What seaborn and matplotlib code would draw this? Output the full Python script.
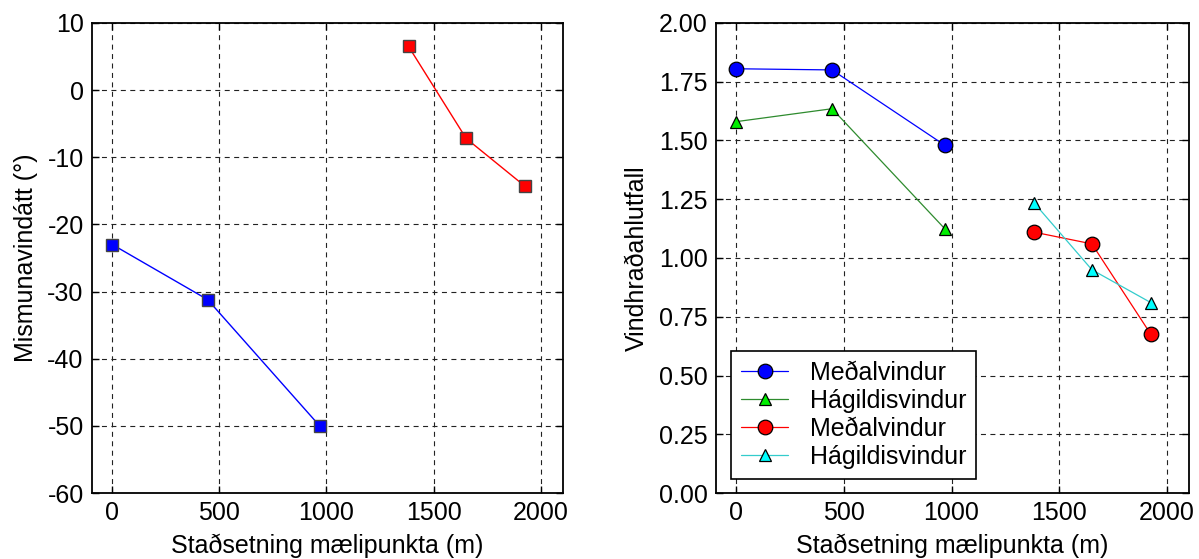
import matplotlib
matplotlib.use("Agg")
import matplotlib.pyplot as plt
import seaborn as sns

sns.set_theme(style="white")
plt.rcParams['font.family'] = ['Liberation Sans', 'DejaVu Sans']
plt.rcParams['axes.unicode_minus'] = False
plt.rcParams['text.color'] = 'black'
plt.rcParams['axes.labelcolor'] = 'black'
plt.rcParams['xtick.color'] = 'black'
plt.rcParams['ytick.color'] = 'black'

x_a = [0, 445, 968]
x_b = [1383, 1652, 1926]
diff_a = [-23.0, -31.2, -50.0]
diff_b = [6.5, -7.2, -14.3]
mean_a = [1.805, 1.800, 1.480]
gust_a = [1.580, 1.635, 1.125]
mean_b = [1.110, 1.060, 0.675]
gust_b = [1.235, 0.950, 0.810]

labels = ["Meðalvindur", "Hágildisvindur", "Meðalvindur", "Hágildisvindur"]
xlabel = "Staðsetning mælipunkta (m)"

fig = plt.figure(figsize=(11.99, 5.59), dpi=100)
ax1 = fig.add_axes([0.0767, 0.118, 0.393, 0.841])
ax2 = fig.add_axes([0.597, 0.118, 0.395, 0.841])

fs = 18

def style(ax):
    ax.grid(True, color='#222222', linestyle=(0, (4.5, 4)), linewidth=0.8)
    ax.set_axisbelow(True)
    for s in ax.spines.values():
        s.set_color('black'); s.set_linewidth(1.3); s.set_visible(True)
    ax.tick_params(direction='in', length=5, width=1, colors='black', labelcolor='black',
                   labelsize=fs, top=True, right=True, bottom=True, left=True, pad=6)
    ax.set_xlim(-95, 2105)
    ax.set_xticks([0, 500, 1000, 1500, 2000])
    ax.set_xlabel(xlabel, fontsize=fs, labelpad=6, color='black')

# Left panel
sns.lineplot(x=x_a, y=diff_a, ax=ax1, color='blue', lw=1, marker='s', markersize=8.5,
             markeredgecolor='#444444', markeredgewidth=1, markerfacecolor='blue')
sns.lineplot(x=x_b, y=diff_b, ax=ax1, color='red', lw=1, marker='s', markersize=8.5,
             markeredgecolor='#444444', markeredgewidth=1, markerfacecolor='red')
style(ax1)
ax1.set_ylim(-60, 10)
ax1.set_yticks(range(-60, 11, 10))
ax1.set_ylabel("Mismunavindátt (°)", fontsize=fs, labelpad=7, color='black')

# Right panel
sns.lineplot(x=x_a, y=mean_a, ax=ax2, color='blue', lw=0.9, marker='o', markersize=10.5,
             markeredgecolor='black', markeredgewidth=0.9, markerfacecolor='blue', label=labels[0])
sns.lineplot(x=x_a, y=gust_a, ax=ax2, color='#2e8b2e', lw=0.9, marker='^', markersize=8,
             markeredgecolor='black', markeredgewidth=0.9, markerfacecolor='#00ee00', label=labels[1])
sns.lineplot(x=x_b, y=mean_b, ax=ax2, color='red', lw=0.9, marker='o', markersize=10.5,
             markeredgecolor='black', markeredgewidth=0.9, markerfacecolor='red', label=labels[2])
sns.lineplot(x=x_b, y=gust_b, ax=ax2, color='#33cccc', lw=0.9, marker='^', markersize=8,
             markeredgecolor='black', markeredgewidth=0.9, markerfacecolor='cyan', label=labels[3])
style(ax2)
ax2.set_ylim(0, 2)
yt = [0, 0.25, 0.5, 0.75, 1.0, 1.25, 1.5, 1.75, 2.0]
ax2.set_yticks(yt)
ax2.set_yticklabels([f"{v:.2f}" for v in yt])
ax2.set_ylabel("Vindhraðahlutfall", fontsize=fs, labelpad=7, color='black')
leg = ax2.legend(loc='lower left', bbox_to_anchor=(0.032, 0.03), fontsize=fs, frameon=True,
                 fancybox=False, edgecolor='black', framealpha=1, handlelength=1.9,
                 handletextpad=0.85, borderpad=0.4, labelspacing=0.16, borderaxespad=0)
leg.get_frame().set_linewidth(1.2)
for t in leg.get_texts():
    t.set_color('black')

fig.savefig("out.png", dpi=100)
